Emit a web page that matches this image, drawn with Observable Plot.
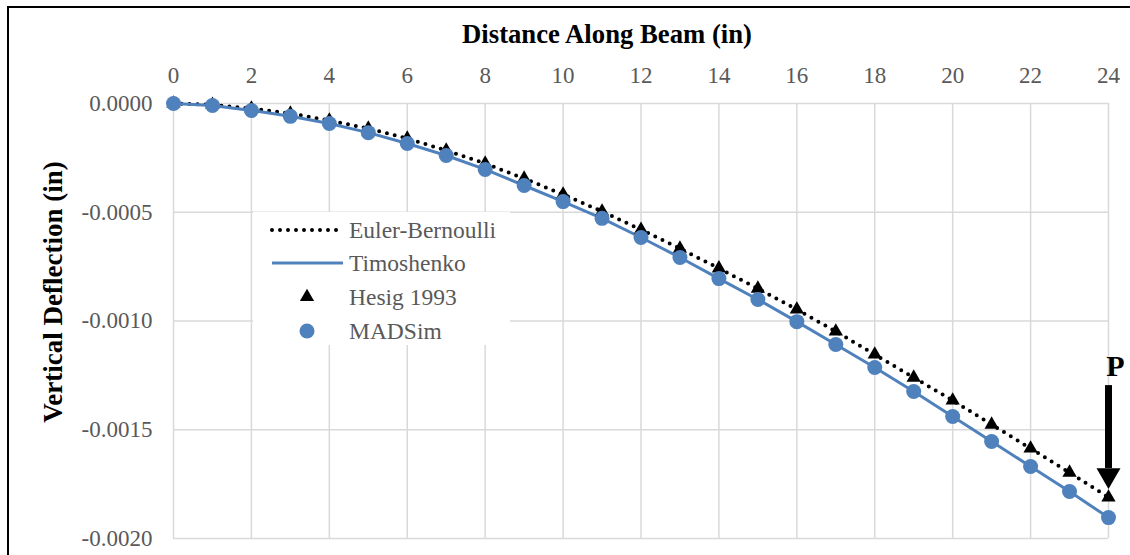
<!DOCTYPE html>
<html><head><meta charset="utf-8">
<script src="https://cdn.jsdelivr.net/npm/d3@7"></script>
<script src="https://cdn.jsdelivr.net/npm/@observablehq/plot@0.6"></script>
<style>
body{margin:0;background:#fff;overflow:hidden}
#wrap{position:relative;width:1130px;height:555px;overflow:hidden}
</style></head><body><div id="wrap"></div>
<script>
// ---- data ----
const positions = [0,1,2,3,4,5,6,7,8,9,10,11,12,13,14,15,16,17,18,19,20,21,22,23,24];
const eulerBernoulli = [0,-0.000006,-0.000023,-0.000046,-0.000078,-0.000115,-0.000161,-0.000216,-0.000276,-0.000345,-0.000418,-0.000496,-0.000580,-0.000667,-0.000758,-0.000851,-0.000947,-0.001048,-0.001154,-0.001260,-0.001365,-0.001476,-0.001586,-0.001697,-0.001811];
const timoshenko = [0,-0.000009,-0.000032,-0.000059,-0.000092,-0.000134,-0.000184,-0.000239,-0.000303,-0.000377,-0.000451,-0.000528,-0.000616,-0.000708,-0.000805,-0.000901,-0.001003,-0.001108,-0.001214,-0.001324,-0.001439,-0.001554,-0.001669,-0.001784,-0.001904];
const hesig1993 = [0,-0.000006,-0.000023,-0.000046,-0.000078,-0.000115,-0.000161,-0.000216,-0.000276,-0.000345,-0.000418,-0.000496,-0.000580,-0.000667,-0.000758,-0.000851,-0.000947,-0.001048,-0.001154,-0.001260,-0.001365,-0.001476,-0.001586,-0.001697,-0.001811];
const madsim = [0,-0.000009,-0.000032,-0.000059,-0.000092,-0.000134,-0.000184,-0.000239,-0.000303,-0.000377,-0.000451,-0.000528,-0.000616,-0.000708,-0.000805,-0.000901,-0.001003,-0.001108,-0.001214,-0.001324,-0.001439,-0.001554,-0.001669,-0.001784,-0.001904];
const xTicks = [0,2,4,6,8,10,12,14,16,18,20,22,24];
const yTicks = [0,-0.0005,-0.001,-0.0015,-0.002];
const seriesNames = ["Euler-Bernoulli","Timoshenko","Hesig 1993","MADSim"];
const xTitle = "Distance Along Beam (in)";
const yTitle = "Vertical Deflection (in)";
// load annotation (applied at the free end)
const loadX = [24];
const loadShaftTop = [-0.001297];
const loadShaftBottom = [-0.001678];
const loadHead = [-0.001709];
const loadLabelY = [-0.001209];
const loadLabel = ["P"];

const BLUE = "#4f81bd";
const GRAY = "#595959";
const FONT = "'Liberation Serif','Times New Roman',serif";

const tbl = (ys) => positions.map((x, i) => ({x, y: ys[i]}));
const ebData = tbl(eulerBernoulli), tiData = tbl(timoshenko), heData = tbl(hesig1993), maData = tbl(madsim);
const load = loadX.map((x, i) => ({x, y1: loadShaftTop[i], y2: loadShaftBottom[i], head: loadHead[i], ly: loadLabelY[i], label: loadLabel[i]}));

const chart = Plot.plot({
  width: 1130, height: 555,
  marginLeft: 173, marginRight: 22, marginTop: 103, marginBottom: 17,
  style: {fontFamily: FONT, fontSize: "23px", background: "transparent", overflow: "visible"},
  x: {domain: [0, 24]},
  y: {domain: [-0.002, 0]},
  marks: [
    Plot.gridX(xTicks, {stroke: "#d9d9d9", strokeOpacity: 1, strokeWidth: 1.5}),
    Plot.gridY(yTicks, {stroke: "#d9d9d9", strokeOpacity: 1, strokeWidth: 1.5}),
    Plot.axisX(xTicks, {anchor: "top", tickSize: 0, tickPadding: 21, fill: GRAY, label: null, fontSize: 23, tickFormat: d => String(d)}),
    Plot.axisY(yTicks, {anchor: "left", tickSize: 0, tickPadding: 21, fill: GRAY, label: null, fontSize: 23, tickFormat: d => d.toFixed(4)}),
    Plot.line(ebData, {x: "x", y: "y", stroke: "#000", strokeWidth: 4, strokeDasharray: "0 8", strokeLinecap: "round"}),
    Plot.line(tiData, {x: "x", y: "y", stroke: BLUE, strokeWidth: 3}),
    Plot.dot(heData, {x: "x", y: "y", symbol: "triangle", fill: "#000", r: 5.3, stroke: "none"}),
    Plot.dot(maData, {x: "x", y: "y", symbol: "circle", fill: BLUE, r: 7.5, stroke: "none"}),
    Plot.ruleX(load, {x: "x", y1: "y1", y2: "y2", stroke: "#000", strokeWidth: 7}),
    Plot.dot(load, {x: "x", y: "head", symbol: "triangle", rotate: 180, fill: "#000", r: 8.9, stroke: "none"}),
    Plot.text(load, {x: "x", y: "ly", text: "label", fontSize: 30, fontWeight: "bold", fill: "#000", dx: 7})
  ]
});
document.getElementById("wrap").appendChild(chart);

const svg = d3.select(chart);
// outer frame (right and bottom edges fall outside the view)
svg.append("rect").attr("x", 8).attr("y", 7).attr("width", 1200).attr("height", 700)
  .attr("fill", "none").attr("stroke", "#000").attr("stroke-width", 2);
// titles
svg.append("text").attr("x", 607).attr("y", 43).attr("text-anchor", "middle")
  .style("font", `bold 26.7px ${FONT}`).attr("fill", "#000").text(xTitle);
svg.append("text").attr("transform", "translate(62,292) rotate(-90)").attr("text-anchor", "middle")
  .style("font", `bold 27px ${FONT}`).attr("fill", "#000").text(yTitle);

// legend
const lg = svg.append("g").attr("transform", "translate(253,212)");
lg.append("rect").attr("width", 257).attr("height", 133).attr("fill", "#fff");
const rowY = [18, 51, 85, 119];
seriesNames.forEach((name, i) => {
  const g = lg.append("g").attr("transform", `translate(0,${rowY[i]})`);
  if (i === 0) g.append("line").attr("x1", 19).attr("x2", 90).attr("stroke", "#000").attr("stroke-width", 4).attr("stroke-dasharray", "0 8").attr("stroke-linecap", "round");
  if (i === 1) g.append("line").attr("x1", 19).attr("x2", 90).attr("stroke", BLUE).attr("stroke-width", 3);
  if (i === 2) g.append("path").attr("d", d3.symbol(d3.symbolTriangle, 5.3 * 5.3 * Math.PI)()).attr("transform", "translate(54,0)").attr("fill", "#000");
  if (i === 3) g.append("circle").attr("cx", 54).attr("r", 7.5).attr("fill", BLUE);
  g.append("text").attr("x", 96).attr("dy", "0.33em").attr("text-anchor", "start")
    .style("font", `23.5px ${FONT}`).attr("fill", GRAY).text(name);
});
</script></body></html>
